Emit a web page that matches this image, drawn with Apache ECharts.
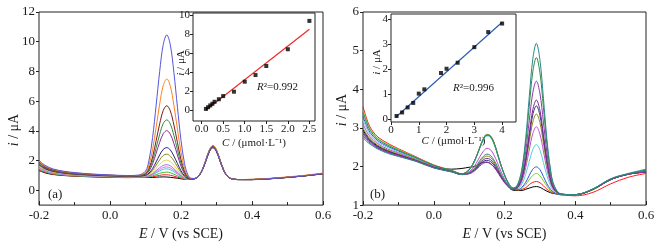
<!DOCTYPE html>
<html><head><meta charset="utf-8">
<script src="https://cdn.jsdelivr.net/npm/echarts@6/dist/echarts.min.js"></script>
<style>html,body{margin:0;padding:0;background:#fff}#c{width:668px;height:246px}</style>
</head><body><div id="c"></div>
<script>
// potential grid (V vs SCE)
const potential = [-0.20,-0.19,-0.18,-0.16,-0.13,-0.10,-0.05,0.00,0.05,0.08,
  0.10,0.11,0.12,0.13,0.14,0.15,0.16,0.17,0.18,0.19,0.20,0.21,0.22,0.23,
  0.24,0.25,0.26,0.27,0.28,0.29,0.30,0.31,0.32,0.33,0.34,0.36,
  0.40,0.45,0.50,0.55,0.60];

// panel (a) currents, µA
const a01 = [1.33,1.23,1.15,1.06,0.99,0.95,0.90,0.87,0.85,0.86, 0.86,0.86,0.86,0.88,0.89,0.90,0.89,0.87,0.84,0.81,0.77,0.74,0.72,0.74, 0.79,0.96,1.34,1.96,2.59,2.87,2.59,1.96,1.34,0.96,0.79,0.72, 0.71,0.77,0.86,0.97,1.10];
const a02 = [1.38,1.27,1.19,1.08,1.01,0.96,0.92,0.89,0.86,0.87, 0.88,0.89,0.91,0.96,1.00,1.04,1.04,1.01,0.95,0.88,0.81,0.76,0.73,0.74, 0.79,0.96,1.36,1.99,2.63,2.92,2.63,1.99,1.36,0.96,0.79,0.72, 0.72,0.78,0.87,0.98,1.11];
const a03 = [1.43,1.31,1.22,1.11,1.03,0.98,0.93,0.90,0.87,0.88, 0.89,0.91,0.97,1.05,1.14,1.20,1.22,1.18,1.08,0.97,0.86,0.78,0.73,0.74, 0.79,0.96,1.36,1.99,2.63,2.92,2.63,1.99,1.36,0.96,0.79,0.72, 0.72,0.78,0.87,0.98,1.12];
const a04 = [1.48,1.35,1.26,1.14,1.05,1.00,0.94,0.91,0.88,0.89, 0.91,0.95,1.03,1.17,1.30,1.41,1.44,1.38,1.25,1.08,0.92,0.80,0.74,0.74, 0.79,0.97,1.37,2.01,2.68,2.97,2.68,2.01,1.37,0.97,0.79,0.72, 0.72,0.78,0.87,0.98,1.12];
const a05 = [1.53,1.39,1.29,1.17,1.07,1.01,0.96,0.92,0.89,0.90, 0.92,0.97,1.08,1.24,1.40,1.53,1.57,1.50,1.34,1.15,0.96,0.82,0.74,0.74, 0.79,0.96,1.36,1.99,2.63,2.92,2.63,1.99,1.36,0.96,0.79,0.72, 0.72,0.78,0.87,0.98,1.12];
const a06 = [1.58,1.43,1.33,1.19,1.09,1.03,0.97,0.93,0.90,0.91, 0.94,0.99,1.12,1.32,1.52,1.67,1.72,1.64,1.45,1.22,1.00,0.84,0.75,0.74, 0.79,0.97,1.37,2.01,2.68,2.97,2.68,2.01,1.37,0.97,0.79,0.72, 0.72,0.78,0.87,0.98,1.12];
const a07 = [1.63,1.48,1.36,1.22,1.12,1.06,0.99,0.95,0.92,0.93, 0.97,1.05,1.22,1.48,1.75,1.96,2.03,1.93,1.68,1.38,1.08,0.87,0.76,0.74, 0.79,0.96,1.36,1.99,2.63,2.92,2.63,1.99,1.36,0.96,0.79,0.72, 0.72,0.78,0.87,0.98,1.12];
const a08 = [1.68,1.52,1.40,1.25,1.14,1.07,1.01,0.96,0.93,0.94, 0.99,1.10,1.34,1.69,2.05,2.34,2.43,2.30,1.98,1.58,1.19,0.91,0.77,0.75, 0.79,0.97,1.37,2.01,2.68,2.97,2.68,2.01,1.37,0.97,0.79,0.72, 0.72,0.78,0.87,0.98,1.12];
const a09 = [1.73,1.56,1.43,1.28,1.16,1.09,1.02,0.97,0.94,0.95, 1.01,1.16,1.46,1.91,2.38,2.75,2.87,2.71,2.30,1.80,1.31,0.96,0.78,0.75, 0.79,0.96,1.36,1.99,2.63,2.92,2.63,1.99,1.36,0.96,0.79,0.72, 0.72,0.78,0.87,0.98,1.12];
const a10 = [1.78,1.60,1.47,1.30,1.18,1.11,1.03,0.99,0.95,0.97, 1.06,1.29,1.78,2.49,3.23,3.81,4.01,3.77,3.15,2.37,1.62,1.09,0.82,0.76, 0.79,0.97,1.37,2.01,2.68,2.97,2.68,2.01,1.37,0.97,0.79,0.72, 0.72,0.78,0.87,0.98,1.12];
const a11 = [1.84,1.65,1.51,1.34,1.21,1.13,1.05,1.00,0.96,0.98, 1.09,1.38,1.98,2.86,3.77,4.49,4.74,4.45,3.69,2.73,1.81,1.17,0.84,0.76, 0.79,0.97,1.39,2.04,2.72,3.02,2.72,2.04,1.39,0.97,0.79,0.72, 0.73,0.79,0.88,0.99,1.13];
const a12 = [1.90,1.70,1.55,1.37,1.23,1.15,1.06,1.01,0.97,0.99, 1.13,1.49,2.24,3.34,4.48,5.37,5.69,5.33,4.39,3.21,2.07,1.27,0.87,0.77, 0.79,0.96,1.36,1.99,2.63,2.92,2.63,1.99,1.36,0.96,0.79,0.72, 0.72,0.78,0.87,0.98,1.12];
const a13 = [1.96,1.75,1.59,1.40,1.25,1.17,1.08,1.02,0.98,1.00, 1.19,1.70,2.74,4.24,5.81,7.05,7.49,7.00,5.72,4.11,2.56,1.47,0.92,0.78, 0.79,0.97,1.39,2.04,2.72,3.02,2.72,2.04,1.39,0.97,0.79,0.72, 0.74,0.80,0.90,1.01,1.16];
const a14 = [2.03,1.80,1.64,1.43,1.28,1.19,1.09,1.03,0.99,1.02, 1.29,2.03,3.55,5.73,8.01,9.81,10.46,9.77,7.92,5.59,3.36,1.80,1.01,0.80, 0.79,0.96,1.36,1.99,2.63,2.92,2.63,1.99,1.36,0.96,0.79,0.72, 0.72,0.78,0.87,0.98,1.12];

// panel (b) currents, µA
const b01 = [2.95,2.80,2.69,2.54,2.41,2.31,2.16,2.00,1.93,1.95, 1.98,1.99,2.02,2.07,2.11,2.11,2.07,1.99,1.87,1.74,1.61,1.50,1.40, 1.38,1.38,1.38,1.41,1.44,1.47,1.48,1.46,1.41,1.36,1.32,1.30,1.27, 1.27,1.40,1.66,1.80,1.85];
const b02 = [3.55,3.25,3.02,2.78,2.60,2.46,2.25,2.04,1.90,1.81, 1.92,2.05,2.25,2.49,2.72,2.83,2.80,2.63,2.34,2.04,1.78,1.59,1.46, 1.40,1.39,1.41,1.45,1.53,1.59,1.61,1.58,1.50,1.41,1.35,1.31,1.27, 1.24,1.33,1.55,1.72,1.82];
const b03 = [3.45,3.18,2.97,2.74,2.57,2.44,2.24,2.03,1.90,1.81, 1.92,2.05,2.25,2.49,2.72,2.83,2.80,2.63,2.34,2.04,1.78,1.59,1.46, 1.40,1.40,1.44,1.53,1.66,1.77,1.82,1.76,1.63,1.49,1.38,1.32,1.27, 1.27,1.40,1.66,1.80,1.87];
const b04 = [3.30,3.06,2.88,2.68,2.52,2.40,2.21,2.02,1.89,1.80, 1.91,2.05,2.24,2.48,2.70,2.81,2.78,2.61,2.33,2.03,1.78,1.58,1.45, 1.41,1.41,1.47,1.59,1.77,1.93,1.99,1.92,1.74,1.55,1.41,1.33,1.27, 1.27,1.41,1.67,1.80,1.90];
const b05 = [3.20,2.99,2.83,2.64,2.49,2.37,2.20,2.01,1.88,1.80, 1.91,2.04,2.23,2.47,2.68,2.79,2.76,2.59,2.32,2.02,1.77,1.58,1.45, 1.42,1.44,1.56,1.80,2.13,2.44,2.57,2.43,2.10,1.76,1.50,1.36,1.28, 1.27,1.41,1.66,1.80,1.88];
const b06 = [3.10,2.91,2.77,2.60,2.45,2.35,2.18,2.00,1.88,1.80, 1.87,1.95,2.08,2.25,2.39,2.47,2.44,2.30,2.10,1.87,1.68,1.54,1.43, 1.41,1.47,1.64,1.97,2.43,2.85,3.03,2.84,2.40,1.92,1.58,1.39,1.28, 1.27,1.41,1.66,1.80,1.87];
const b07 = [3.00,2.84,2.72,2.56,2.42,2.32,2.17,1.99,1.87,1.80, 1.84,1.90,1.99,2.11,2.22,2.27,2.24,2.13,1.96,1.78,1.63,1.51,1.42, 1.42,1.49,1.69,2.08,2.64,3.15,3.36,3.14,2.61,2.04,1.63,1.41,1.28, 1.27,1.41,1.66,1.80,1.87];
const b08 = [2.90,2.76,2.66,2.52,2.39,2.30,2.15,1.98,1.87,1.79, 1.82,1.87,1.94,2.04,2.13,2.16,2.13,2.04,1.89,1.73,1.60,1.49,1.41, 1.42,1.50,1.72,2.16,2.77,3.34,3.57,3.33,2.74,2.12,1.66,1.42,1.28, 1.27,1.41,1.66,1.80,1.86];
const b09 = [2.85,2.73,2.64,2.50,2.37,2.29,2.15,1.97,1.87,1.79, 1.83,1.88,1.96,2.07,2.17,2.21,2.18,2.08,1.92,1.75,1.61,1.50,1.42, 1.43,1.51,1.75,2.21,2.86,3.47,3.72,3.46,2.83,2.17,1.69,1.43,1.28, 1.27,1.41,1.66,1.80,1.86];
const b10 = [2.80,2.69,2.61,2.48,2.36,2.27,2.14,1.97,1.86,1.79, 1.81,1.85,1.92,2.01,2.08,2.11,2.08,1.99,1.86,1.71,1.58,1.48,1.41, 1.43,1.54,1.83,2.39,3.18,3.91,4.21,3.90,3.15,2.35,1.77,1.46,1.28, 1.27,1.41,1.66,1.80,1.86];
const b11 = [3.40,3.14,2.94,2.72,2.55,2.42,2.23,2.03,1.89,1.81, 1.91,2.05,2.24,2.48,2.70,2.81,2.78,2.61,2.33,2.03,1.78,1.58,1.45, 1.45,1.58,1.93,2.61,3.56,4.45,4.82,4.44,3.53,2.57,1.87,1.50,1.28, 1.27,1.42,1.68,1.81,1.90];
const b12 = [2.75,2.65,2.58,2.46,2.34,2.26,2.13,1.96,1.86,1.79, 1.84,1.91,2.01,2.15,2.26,2.32,2.29,2.17,2.00,1.80,1.64,1.51,1.42, 1.45,1.60,1.99,2.74,3.80,4.78,5.19,4.77,3.77,2.70,1.93,1.52,1.29, 1.27,1.42,1.68,1.82,1.93];

// insets: calibration data
const concA = [0.10,0.15,0.20,0.25,0.30,0.40,0.50,0.75,1.00,1.25,1.50,2.00,2.50];
const peakA = [0.12,0.30,0.49,0.66,0.87,1.14,1.47,1.93,2.98,3.68,4.63,6.39,9.37];
const fitA_C = [0.10,2.50];
const fitA_i = [0.00,8.50];
const concB = [0.2,0.4,0.6,0.8,1.0,1.2,1.8,2.0,2.4,3.0,3.5,4.0];
const peakB = [0.14,0.28,0.48,0.66,1.03,1.20,1.85,2.02,2.26,2.88,3.48,3.82];
const fitB_C = [0.17,4.00];
const fitB_i = [0.09,3.87];

const colorsA = ['#000000','#ff1a1a','#3cbf3c','#3cc8d8','#e070e0','#a070e0','#e8d840','#8a8a20','#222277','#8a2a96','#2e8b3e','#7a1a1a','#ff8020','#5555dd'];
const colorsB = ['#000000','#ff1a1a','#7ccc30','#3355cc','#55cfdf','#c050c8','#8c8c1a','#333388','#7a2a8a','#8e3aa8','#2e8b4a','#2a8a88'];
const seriesA = [a01,a02,a03,a04,a05,a06,a07,a08,a09,a10,a11,a12,a13,a14];
const seriesB = [b01,b02,b03,b04,b05,b06,b07,b08,b09,b10,b11,b12];

const FONT = 'Liberation Serif';
const TXT = '#1a1a1a';
const pair = (xs, ys) => xs.map((x, i) => [x, ys[i]]);
const nameStyle = (size) => ({fontFamily: FONT, fontSize: size, color: TXT, rich: {it: {fontFamily: FONT, fontSize: size, fontStyle: 'italic', color: TXT}}});
const richTxt = (size) => ({it: {fontFamily: FONT, fontSize: size, fontStyle: 'italic', fill: TXT}, n: {fontFamily: FONT, fontSize: size, fill: TXT}});
const NOLINE = {show: false, onZero: false};

function mainX(gi) {
  return {
    type: 'value', gridIndex: gi, position: 'bottom', min: -0.2, max: 0.6, interval: 0.2,
    name: '{it|E} / V (vs SCE)', nameLocation: 'middle', nameGap: 20, nameTextStyle: nameStyle(14),
    axisLine: NOLINE,
    axisTick: {inside: true, length: 4, lineStyle: {color: '#222'}},
    minorTick: {show: true, splitNumber: 2, length: 3, lineStyle: {color: '#222'}},
    splitLine: {show: false},
    axisLabel: {fontFamily: FONT, fontSize: 13, color: TXT, margin: 4, formatter: v => v.toFixed(1)}
  };
}
function yAx(gi, min, max, vals, size, margin) {
  return {type: 'value', gridIndex: gi, position: 'left', min: min, max: max,
    axisLine: NOLINE,
    axisTick: {show: true, length: 3, customValues: vals, lineStyle: {color: '#222'}},
    splitLine: {show: false},
    axisLabel: {fontFamily: FONT, fontSize: size, color: TXT, margin: margin, customValues: vals}};
}

const option = {
  animation: false,
  backgroundColor: '#ffffff',
  grid: [
    {left: 39, top: 12, width: 284, height: 197, show: true, borderColor: '#222', borderWidth: 1, backgroundColor: 'transparent'},
    {left: 193, top: 13, width: 122, height: 108, show: true, borderColor: '#222', borderWidth: 1, backgroundColor: 'transparent'},
    {left: 363, top: 12, width: 283, height: 197, show: true, borderColor: '#222', borderWidth: 1, backgroundColor: 'transparent'},
    {left: 391, top: 14, width: 125, height: 108, show: true, borderColor: '#222', borderWidth: 1, backgroundColor: 'transparent'}
  ],
  xAxis: [
    mainX(0),
    {type: 'value', gridIndex: 1, position: 'bottom', min: -0.2, max: 2.63,
     name: '{it|C} / (μmol·L⁻¹)', nameLocation: 'middle', nameGap: 17, nameMoveOverlap: false, nameTextStyle: nameStyle(11),
     axisLine: NOLINE,
     axisTick: {length: 3, customValues: [0,0.5,1,1.5,2,2.5], lineStyle: {color: '#222'}},
     splitLine: {show: false},
     axisLabel: {fontFamily: FONT, fontSize: 11, color: TXT, margin: 3, customValues: [0,0.5,1,1.5,2,2.5], formatter: v => v.toFixed(1)}},
    mainX(2),
    {type: 'value', gridIndex: 3, position: 'bottom', min: 0, max: 4.5,
     name: '{it|C} / (μmol·L⁻¹)', nameLocation: 'middle', nameGap: 14, nameMoveOverlap: false, nameTextStyle: nameStyle(11),
     axisLine: NOLINE,
     axisTick: {length: 3, customValues: [0,1,2,3,4], lineStyle: {color: '#222'}},
     splitLine: {show: false},
     axisLabel: {fontFamily: FONT, fontSize: 11, color: TXT, margin: 3, customValues: [0,1,2,3,4], formatter: v => String(v)}}
  ],
  yAxis: [
    yAx(0, -1, 12, [0,2,4,6,8,10,12], 13, 4),
    yAx(1, -1.15, 10.2, [0,2,4,6,8,10], 11, 3),
    yAx(2, 1, 6, [1,2,3,4,5,6], 13, 4),
    yAx(3, -0.1, 4.2, [0,1,2,3,4], 11, 3)
  ],
  series: [],
  graphic: [
    {type: 'text', x: 14, y: 130, rotation: Math.PI / 2, style: {text: '{it|i}{n| / μA}', rich: richTxt(14), align: 'center', verticalAlign: 'middle'}},
    {type: 'text', x: 342, y: 110, rotation: Math.PI / 2, style: {text: '{it|i}{n| / μA}', rich: richTxt(14), align: 'center', verticalAlign: 'middle'}},
    {type: 'text', x: 181, y: 63, rotation: Math.PI / 2, style: {text: '{it|i}{n| / μA}', rich: richTxt(11), align: 'center', verticalAlign: 'middle'}},
    {type: 'text', x: 377, y: 62, rotation: Math.PI / 2, style: {text: '{it|i}{n| / μA}', rich: richTxt(11), align: 'center', verticalAlign: 'middle'}},
    {type: 'text', left: 48, top: 188, style: {text: '(a)', font: '13px "Liberation Serif"', fill: TXT}},
    {type: 'text', left: 370, top: 188, style: {text: '(b)', font: '13px "Liberation Serif"', fill: TXT}},
    {type: 'text', left: 257, top: 82, style: {rich: richTxt(11), text: '{it|R}{n|²=0.992}'}},
    {type: 'text', left: 453, top: 83, style: {rich: richTxt(11), text: '{it|R}{n|²=0.996}'}}
  ]
};

seriesA.forEach((arr, k) => option.series.push({
  type: 'line', xAxisIndex: 0, yAxisIndex: 0, data: pair(potential, arr),
  showSymbol: false, smooth: 0.35, lineStyle: {width: 1, color: colorsA[k]}, itemStyle: {color: colorsA[k]}, z: 2
}));
seriesB.forEach((arr, k) => option.series.push({
  type: 'line', xAxisIndex: 2, yAxisIndex: 2, data: pair(potential, arr),
  showSymbol: false, smooth: 0.35, lineStyle: {width: 1, color: colorsB[k]}, itemStyle: {color: colorsB[k]}, z: 2
}));
option.series.push(
  {type: 'line', xAxisIndex: 1, yAxisIndex: 1, data: pair(fitA_C, fitA_i), showSymbol: false, lineStyle: {width: 1.2, color: '#ee2a2a'}, z: 3},
  {type: 'scatter', xAxisIndex: 1, yAxisIndex: 1, data: pair(concA, peakA), symbol: 'rect', symbolSize: 4, itemStyle: {color: '#000'}, z: 4},
  {type: 'line', xAxisIndex: 3, yAxisIndex: 3, data: pair(fitB_C, fitB_i), showSymbol: false, lineStyle: {width: 1.2, color: '#2a5db5'}, z: 3},
  {type: 'scatter', xAxisIndex: 3, yAxisIndex: 3, data: pair(concB, peakB), symbol: 'rect', symbolSize: 4, itemStyle: {color: '#000'}, z: 4}
);

const chart = echarts.init(document.getElementById('c'), null, {renderer: 'canvas'});
chart.setOption(option);
</script></body></html>
